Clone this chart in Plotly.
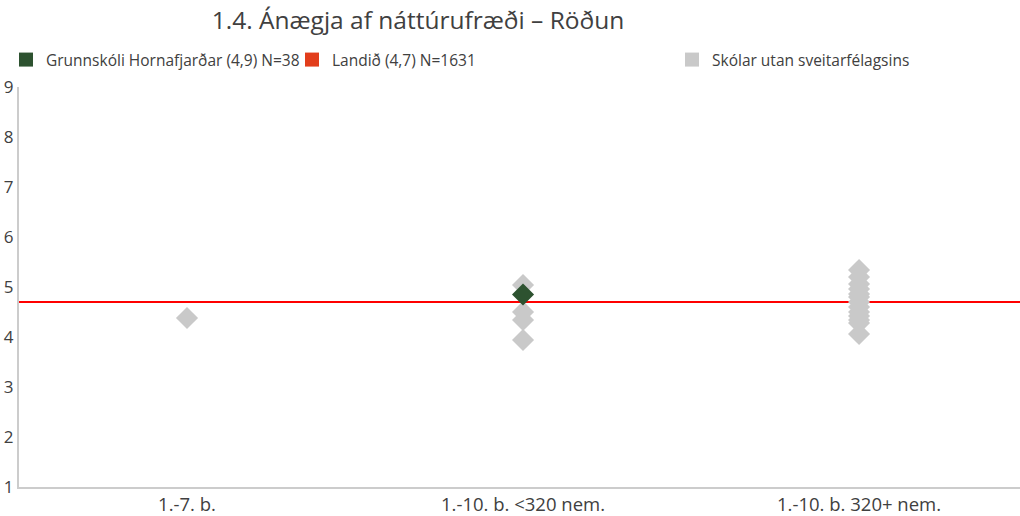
import plotly.graph_objects as go

categories = ["1.-7. b.", "1.-10. b. <320 nem.", "1.-10. b. 320+ nem."]

# Other schools (gray diamonds): category index -> values
other_cat = [0,
             1, 1, 1, 1,
             2, 2, 2, 2, 2, 2, 2, 2, 2, 2, 2, 2, 2]
other_val = [4.38,
             5.04, 4.5, 4.34, 3.94,
             5.34, 5.2, 5.06, 4.96, 4.86, 4.8, 4.7, 4.6, 4.5, 4.42, 4.34, 4.28, 4.06]

school_cat = [1]
school_val = [4.85]
landid_value = 4.7

names = ["Grunnskóli Hornafjarðar (4,9) N=38", "Landið (4,7) N=1631", "Skólar utan sveitarfélagsins"]
y_ticks = [1, 2, 3, 4, 5, 6, 7, 8, 9]

GREEN = "#2d5230"
GRAY = "#c9c9c9"
RED_LINE = "#ff0000"
RED_LEG = "#e23d1b"
TXT = "#404040"
FONT = "Open Sans"

fig = go.Figure()

fig.add_hline(y=landid_value, line=dict(color=RED_LINE, width=2), layer="below")

fig.add_trace(go.Scatter(
    x=other_cat, y=other_val, mode="markers", showlegend=False,
    marker=dict(symbol="diamond", size=17, color=GRAY, line=dict(width=0)),
    hoverinfo="y"))
fig.add_trace(go.Scatter(
    x=school_cat, y=school_val, mode="markers", showlegend=False,
    marker=dict(symbol="diamond", size=17, color=GREEN, line=dict(width=0)),
    hoverinfo="y"))

# Legend-only entries (square swatches)
leg_colors = [GREEN, RED_LEG, GRAY]
leg_ids = ["legend", "legend2", "legend3"]
for nm, col, lid in zip(names, leg_colors, leg_ids):
    fig.add_trace(go.Scatter(
        x=[None], y=[None], mode="markers", name=nm, legend=lid,
        marker=dict(symbol="square", size=14, color=col)))

leg_common = dict(orientation="h", xref="container", yref="container",
                  yanchor="middle", xanchor="left", itemwidth=30,
                  font=dict(family=FONT, size=15.5, color=TXT),
                  bgcolor="rgba(0,0,0,0)", borderwidth=0,
                  itemsizing="trace")
LY = 1 - 60/516
fig.update_layout(
    legend=dict(x=6/1020, y=LY, **leg_common),
    legend2=dict(x=292/1020, y=LY, **leg_common),
    legend3=dict(x=672/1020, y=LY, **leg_common),
)

fig.update_layout(
    width=1020, height=516,
    margin=dict(l=19, r=0, t=87, b=29, autoexpand=False),
    paper_bgcolor="white", plot_bgcolor="white",
    title=dict(text="1.4. Ánægja af náttúrufræði – Röðun",
               x=418/1020, xanchor="center", y=1-20/516, yanchor="middle",
               font=dict(family=FONT, size=24.5, color=TXT)),
    font=dict(family=FONT, color=TXT),
    xaxis=dict(range=[-0.5, 2.479], tickmode="array", tickvals=[0, 1, 2],
               ticktext=categories, showgrid=False, zeroline=False,
               showline=True, linecolor="#cccccc", linewidth=2,
               automargin=False,
               ticks="", tickfont=dict(family=FONT, size=18.5, color=TXT)),
    yaxis=dict(range=[1, 9], tickmode="array", tickvals=y_ticks,
               showgrid=False, zeroline=False, showline=True,
               linecolor="#cccccc", linewidth=2, ticks="",
               automargin=False, ticklabelstandoff=0,
               tickfont=dict(family=FONT, size=17, color=TXT)),
)

fig.write_html("out.html", config={"displayModeBar": False},
               post_script="document.body.style.margin='0';")
